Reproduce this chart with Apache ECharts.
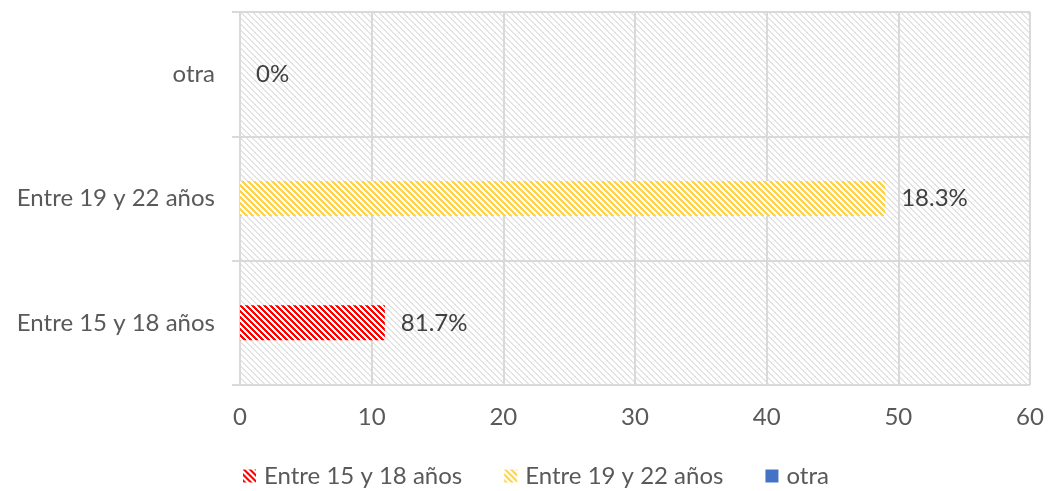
<!DOCTYPE html>
<html>
<head>
<meta charset="utf-8">
<script src="https://cdn.jsdelivr.net/npm/echarts@6/dist/echarts.min.js"></script>
<style>
  html, body { margin: 0; padding: 0; background: #fff; }
  #chart { width: 1050px; height: 491px; }
</style>
</head>
<body>
<div id="chart"></div>
<script>
  var categories = ['Entre 15 y 18 años', 'Entre 19 y 22 años', 'otra'];
  var seriesNames = ['Entre 15 y 18 años', 'Entre 19 y 22 años', 'otra'];
  var values = [11, 49, 0];
  var labels = ['81.7%', '18.3%', '0%'];
  var xTicks = [0, 10, 20, 30, 40, 50, 60];

  var font = 'Lato';

  // diagonal stripe tile, pixel based so tiles join cleanly
  function stripes(size, width, fg, bg) {
    var c = document.createElement('canvas');
    c.width = size; c.height = size;
    var ctx = c.getContext('2d');
    ctx.fillStyle = bg;
    ctx.fillRect(0, 0, size, size);
    ctx.fillStyle = fg;
    for (var y = 0; y < size; y++) {
      for (var x = 0; x < size; x++) {
        if (((x - y) % size + size) % size < width) ctx.fillRect(x, y, 1, 1);
      }
    }
    return { image: c, repeat: 'repeat' };
  }

  var barColors = [
    stripes(6, 3, '#ff0000', '#ffffff'),
    stripes(6, 3, '#ffd24d', '#ffffff'),
    '#4472c4'
  ];

  var series = seriesNames.map(function (name, i) {
    var data = categories.map(function (c, j) { return j === i ? values[i] : '-'; });
    return {
      name: name,
      type: 'bar',
      barWidth: 35,
      barGap: '-100%',
      itemStyle: { color: barColors[i] },
      label: {
        show: true,
        position: 'right',
        distance: 16,
        color: '#404040',
        fontSize: 24,
        fontFamily: font,
        formatter: function () { return labels[i]; }
      },
      data: data
    };
  });

  var chart = echarts.init(document.getElementById('chart'));
  var option = {
    animation: false,
    textStyle: { fontFamily: font },
    grid: {
      left: 240, right: 20, top: 12, bottom: 106,
      show: true,
      borderWidth: 0,
      backgroundColor: stripes(6, 2, '#e4e4e4', '#ffffff')
    },
    legend: {
      top: 464,
      left: 243,
      padding: 0,
      itemWidth: 13,
      itemHeight: 13,
      itemGap: 42,
      icon: 'rect',
      textStyle: { color: '#595959', fontSize: 24, fontFamily: font, padding: [0, 0, 0, 3] },
      data: seriesNames
    },
    xAxis: {
      type: 'value',
      min: xTicks[0],
      max: xTicks[xTicks.length - 1],
      interval: 10,
      axisLine: { show: false },
      axisTick: { show: false },
      axisLabel: { color: '#595959', fontSize: 24, margin: 20 },
      splitLine: { lineStyle: { color: '#d9d9d9', width: 2 } }
    },
    yAxis: {
      type: 'category',
      data: categories,
      axisLine: { show: true, lineStyle: { color: '#d9d9d9', width: 2 } },
      axisTick: { show: true, length: 8, lineStyle: { color: '#d9d9d9', width: 2 } },
      axisLabel: { color: '#595959', fontSize: 24, margin: 25 },
      splitLine: { show: true, lineStyle: { color: '#d9d9d9', width: 2 } }
    },
    series: series
  };
  chart.setOption(option);
</script>
</body>
</html>
